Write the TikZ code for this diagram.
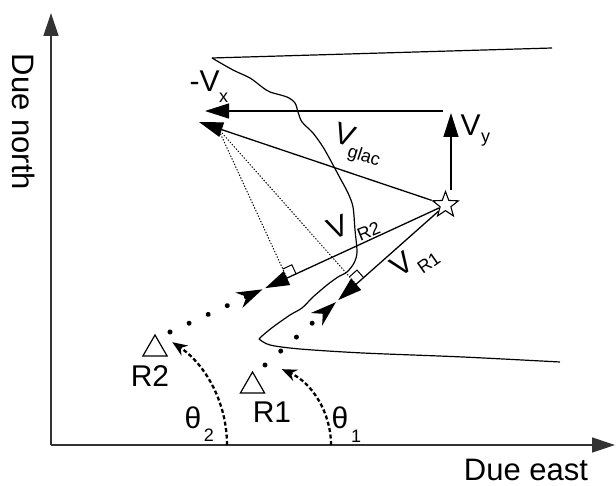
\documentclass[tikz,border=0pt]{standalone}
\usepackage{fontspec}
\setmainfont{Liberation Sans}
\usetikzlibrary{arrows.meta,calc,shapes.geometric}
\newcommand{\subsc}[3]{\hspace{#1}\raisebox{#2}{\fontsize{18bp}{18bp}\selectfont #3}}
\begin{document}
\begin{tikzpicture}[x=1bp,y=-1bp,
  line width=1.3bp,
  lbl/.style={font=\fontsize{30bp}{30bp}\selectfont, inner sep=0pt},
  vlbl/.style={font=\fontsize{30bp}{30bp}\selectfont, inner sep=0pt, anchor=base west},
  biglbl/.style={font=\fontsize{31bp}{31bp}\selectfont, inner sep=0pt},
  sublbl/.style={font=\fontsize{18bp}{18bp}\selectfont, inner sep=0pt},
  axisline/.style={line width=1.3bp, draw=black!80, -{Triangle[length=23bp,width=15bp]}},
  varrow/.style={line width=1.3bp, -{Triangle[length=24bp,width=15bp]}},
  rarrow/.style={line width=5bp, line cap=round, dash pattern=on 0.01bp off 21bp,
                 -{Stealth[length=26bp,width=17bp,line width=0pt]}},
  perp/.style={line width=1bp, dash pattern=on 1.3bp off 1.7bp},
  thetaarc/.style={line width=2.3bp, dash pattern=on 4bp off 2.5bp,
                   -{Stealth[length=15bp,width=12bp]}},
  recv/.style={regular polygon, regular polygon sides=3, draw, line width=1.2bp,
               minimum size=28bp, inner sep=0pt},
  glacier/.style={line width=1.2bp},
  rmark/.style={line width=1bp}
]
\useasboundingbox (0,0) rectangle (616,486);

% axes
\coordinate (O) at (51,445);
\coordinate (N) at (51,13);
\coordinate (E) at (615,445);
\draw[axisline] (O) -- (N);
\draw[axisline] (O) -- (E);
\node[biglbl, rotate=-90] (north) at (24,122) {Due north};
\node[biglbl] (east) at (526,470) {Due east};

% glacier outline
\draw[glacier] (552,48) -- (212,58);
\draw[glacier] plot[smooth, tension=0.5] coordinates {(212,58) (233,70) (250,78) (262,87) (270,92) (287,97) (295,103) (298,112) (302,122) (313,133) (323,147) (332,163) (340,178) (348,193) (353,207) (355,230) (357,252) (354,263) (347,272) (338,277) (327,285) (313,297) (302,308) (290,315) (273,327) (262,336) (259,339)};
\draw[glacier] plot[smooth, tension=0.5] coordinates {(259,339) (270,345) (300,349) (363,353) (463,357) (560,362)};

% star (source)
\node[star, star points=5, star point ratio=2.4, draw, line width=1.1bp,
      minimum size=27bp, inner sep=0pt] (S) at (445.5,205) {};

% velocity components
\coordinate (vxs) at (443,111);
\coordinate (vxt) at (205,111);
\coordinate (vyb) at (451,190);
\coordinate (vyt) at (451,113);
\coordinate (G) at (199,122);
\draw[varrow] (vxs) -- (vxt);
\draw[varrow] (vyb) -- (vyt);
\draw[varrow] (S) -- (G);

% receivers
\node[recv] (R2) at (155,349) {};
\node[recv] (R1) at (252.5,386) {};
\node[lbl] (R2l) at (150,376) {R2};
\node[lbl] (R1l) at (272,412) {R1};
\coordinate (D2) at (170,332);
\coordinate (D1) at (265,365);

% projections
\coordinate (P) at ($(G)!20bp!(S)$);
\coordinate (F2) at ($(S)!(P)!(D2)$);
\coordinate (F1) at ($(S)!(P)!(D1)$);
\coordinate (T2) at ($(F2)!24bp!(D2)$);
\coordinate (T1) at ($(F1)!24bp!(D1)$);
\coordinate (Q2) at ($(F2)!27bp!(D2)$);
\coordinate (Q1) at ($(F1)!27bp!(D1)$);

\draw[perp] (P) -- (F2);
\draw[perp] (P) -- (F1);
\draw[varrow] (S) -- (T2);
\draw[varrow] (S) -- (T1);
\draw[rarrow] (D2) -- (Q2);
\draw[rarrow] (D1) -- (Q1);

% right-angle marks
\coordinate (m2a) at ($(F2)!10bp!(S)$);
\coordinate (m2c) at ($(F2)!10bp!(P)$);
\coordinate (m2b) at ($(m2a)+(m2c)-(F2)$);
\draw[rmark] (m2a) -- (m2b) -- (m2c);
\coordinate (m1a) at ($(F1)!10bp!(S)$);
\coordinate (m1c) at ($(F1)!10bp!(P)$);
\coordinate (m1b) at ($(m1a)+(m1c)-(F1)$);
\draw[rmark] (m1a) -- (m1b) -- (m1c);

% angle arcs
\coordinate (t2s) at (227,445);
\coordinate (t1s) at (331,445);
\draw[thetaarc] (t2s) arc[start angle=0, end angle=56, radius=124bp];
\draw[thetaarc] (t1s) arc[start angle=0, end angle=66, radius=83bp];
\node[lbl] (th2) at (193,418) {θ};
\node[sublbl] (th2s) at (209,435) {2};
\node[lbl] (th1) at (340,418) {θ};
\node[sublbl] (th1s) at (356,436) {1};

% velocity labels
\node[vlbl] (vxl) at (189,91.7) {-V\subsc{-0.5bp}{-10.5bp}{x}};
\node[vlbl] (vyl) at (460,135.7) {V\subsc{0.5bp}{-7bp}{y}};
\node[vlbl, rotate=-18] (vgl) at (332.2,141.1) {V\subsc{-2.3bp}{-10.2bp}{glac}};
\node[vlbl, rotate=22] (vr2l) at (331.7,240.7) {V\subsc{5.7bp}{-11bp}{R2}};
\node[vlbl, rotate=35] (vr1l) at (399,278.5) {V\subsc{1.2bp}{-10.4bp}{R1}};
\end{tikzpicture}
\end{document}
